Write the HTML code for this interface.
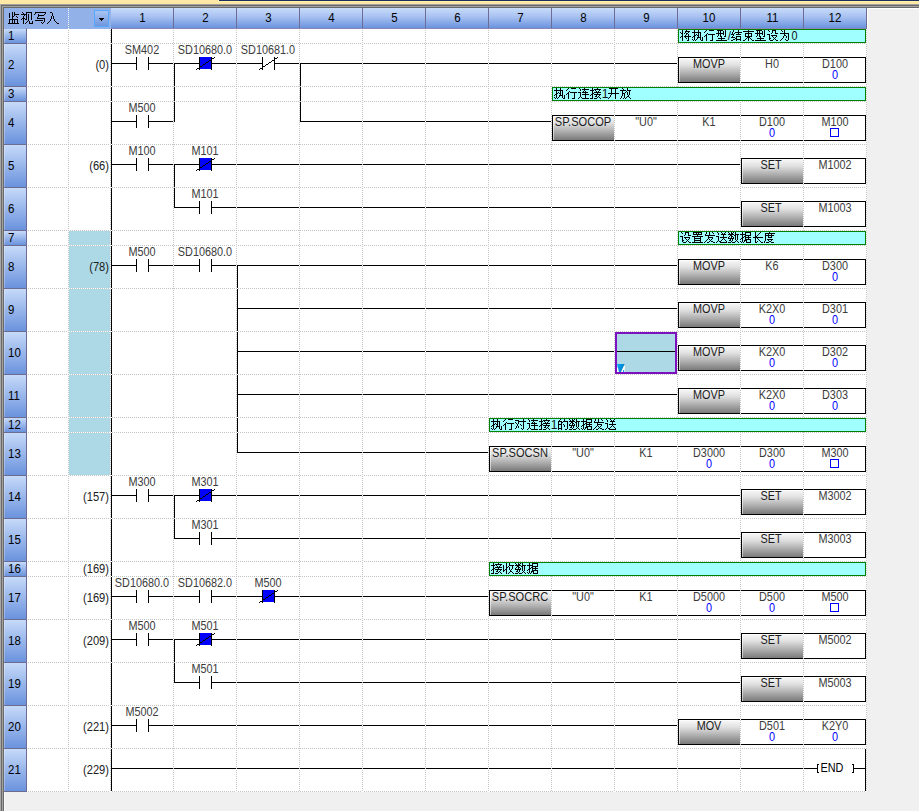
<!DOCTYPE html>
<html><head><meta charset="utf-8"><title>ladder</title><style>
html,body{margin:0;padding:0}
body{width:919px;height:811px;background:#f0f0f0;position:relative;overflow:hidden;font-family:"Liberation Sans",sans-serif}
.abs{position:absolute}
svg.l{position:absolute;left:0;top:0}
.t{position:absolute;line-height:15px;white-space:nowrap;font-family:"Liberation Sans",sans-serif}
.b{}
.gh{position:absolute;left:28px;width:839px;height:1px;background:repeating-linear-gradient(to right,#c4c4c4 0 1px,#fff 1px 2px)}
.gv{position:absolute;top:30px;height:762px;width:1px;background:repeating-linear-gradient(to bottom,#c4c4c4 0 1px,#fff 1px 2px)}
.ch{position:absolute;top:8px;height:20px;border-bottom:1px solid #8c86b6;width:62px;border-right:1px solid #6c6c94;background:linear-gradient(#c8dcfa,#a6c0f0 45%,#6a93de);text-align:center;font-size:12.5px;line-height:20px;color:#000}
.ch span{display:inline-block;transform:scaleX(.92)}
.rn{position:absolute;left:4px;width:22px;border-right:1px solid #6c6c94;border-top:1px solid #6c6c90;background:linear-gradient(#c6daf9,#6a92dd);font-size:12.5px;color:#000;box-sizing:content-box;box-shadow:inset 1px 0 0 rgba(255,255,255,.28)}
.rn span{display:inline-block;margin-left:3.5px;transform:scaleX(.92);transform-origin:left center}
</style></head><body>
<div class="abs" style="left:0;top:0;width:919px;height:4px;background:#ffe8a6"></div>
<div class="abs" style="left:218px;top:0;width:701px;height:2px;background:#fff0aa"></div>
<div class="abs" style="left:219px;top:0;width:700px;height:1px;background:#1c2f5c"></div>
<div class="abs" style="left:0;top:4px;width:919px;height:1px;background:#a0a0a0"></div>
<div class="abs" style="left:0;top:5px;width:919px;height:1px;background:#696969"></div>
<div class="abs" style="left:0;top:6px;width:919px;height:1px;background:#a0a0a0"></div>
<div class="abs" style="left:0;top:7px;width:919px;height:1px;background:#696969"></div>
<div class="abs" style="left:0;top:4px;width:1px;height:807px;background:#a8a8a8"></div>
<div class="abs" style="left:1px;top:5px;width:1px;height:806px;background:#696969"></div>
<div class="abs" style="left:2px;top:6px;width:1px;height:805px;background:#a0a0a0"></div>
<div class="abs" style="left:3px;top:7px;width:1px;height:804px;background:#6e6a68"></div>
<div class="abs" style="left:4px;top:792px;width:1px;height:19px;background:#fafafa"></div>
<div class="abs" style="left:4px;top:791px;width:23px;height:1px;background:#6c6c90"></div>
<div class="abs" style="left:867px;top:8px;width:52px;height:1px;background:#fff"></div>
<div class="abs" style="left:867px;top:8px;width:1px;height:21px;background:#fff"></div>
<div class="abs" style="left:27px;top:29px;width:840px;height:763px;background:#fff"></div>
<div style="position:absolute;left:4px;top:8px;width:107px;height:21px;background:#92b1e8"></div><div style="position:absolute;left:68px;top:8px;width:1px;height:21px;background:repeating-linear-gradient(to bottom,#fff 0 1px,transparent 1px 2px)"></div><div style="position:absolute;left:94px;top:10px;width:13px;height:15px;border:1px solid #55aaff;background:linear-gradient(#a9c4f1,#6f96de)"></div><svg style="position:absolute;left:99px;top:18px" width="5" height="3" shape-rendering="crispEdges"><path d="M0 0h5v1h-5zM1 1h3v1h-3zM2 2h1v1h-1z" fill="#000"/></svg><div class="ch" style="left:111px"><span>1</span></div><div class="ch" style="left:174px"><span>2</span></div><div class="ch" style="left:237px"><span>3</span></div><div class="ch" style="left:300px"><span>4</span></div><div class="ch" style="left:363px"><span>5</span></div><div class="ch" style="left:426px"><span>6</span></div><div class="ch" style="left:489px"><span>7</span></div><div class="ch" style="left:552px"><span>8</span></div><div class="ch" style="left:615px"><span>9</span></div><div class="ch" style="left:678px"><span>10</span></div><div class="ch" style="left:741px"><span>11</span></div><div class="ch" style="left:804px"><span>12</span></div>
<div class="rn" style="top:28px;height:14px;line-height:15px;border-top-color:#92b1e8"><span>1</span></div><div class="rn" style="top:43px;height:42px;line-height:43px"><span>2</span></div><div class="rn" style="top:86px;height:14px;line-height:15px"><span>3</span></div><div class="rn" style="top:101px;height:42px;line-height:43px"><span>4</span></div><div class="rn" style="top:144px;height:42px;line-height:43px"><span>5</span></div><div class="rn" style="top:187px;height:42px;line-height:43px"><span>6</span></div><div class="rn" style="top:230px;height:14px;line-height:15px"><span>7</span></div><div class="rn" style="top:245px;height:42px;line-height:43px"><span>8</span></div><div class="rn" style="top:288px;height:42px;line-height:43px"><span>9</span></div><div class="rn" style="top:331px;height:42px;line-height:43px"><span>10</span></div><div class="rn" style="top:374px;height:42px;line-height:43px"><span>11</span></div><div class="rn" style="top:417px;height:14px;line-height:15px"><span>12</span></div><div class="rn" style="top:432px;height:42px;line-height:43px"><span>13</span></div><div class="rn" style="top:475px;height:42px;line-height:43px"><span>14</span></div><div class="rn" style="top:518px;height:42px;line-height:43px"><span>15</span></div><div class="rn" style="top:561px;height:14px;line-height:15px"><span>16</span></div><div class="rn" style="top:576px;height:42px;line-height:43px"><span>17</span></div><div class="rn" style="top:619px;height:42px;line-height:43px"><span>18</span></div><div class="rn" style="top:662px;height:42px;line-height:43px"><span>19</span></div><div class="rn" style="top:705px;height:42px;line-height:43px"><span>20</span></div><div class="rn" style="top:748px;height:42px;line-height:43px"><span>21</span></div>
<svg class="l" width="919" height="811" shape-rendering="crispEdges"><defs><linearGradient id="gr" x1="0" y1="0" x2="0" y2="1"><stop offset="0" stop-color="#ffffff"/><stop offset="0.06" stop-color="#f4f4f4"/><stop offset="0.3" stop-color="#e0e0e0"/><stop offset="1" stop-color="#7a7a7a"/></linearGradient></defs>
<rect x="111" y="29" width="1" height="762" fill="#000"/><rect x="111" y="63" width="26" height="1" fill="#000"/><rect x="148" y="63" width="26" height="1" fill="#000"/><rect x="136" y="57" width="1" height="13" fill="#000"/><rect x="148" y="57" width="1" height="13" fill="#000"/><rect x="174" y="63" width="26" height="1" fill="#000"/><rect x="211" y="63" width="26" height="1" fill="#000"/><rect x="199" y="57" width="1" height="13" fill="#000"/><rect x="211" y="57" width="1" height="13" fill="#000"/><rect x="200" y="57" width="11" height="12" fill="#0000ff"/><path d="M196 69h1v1h-1zM197 68h1v1h-1zM198 68h1v1h-1zM199 67h1v1h-1zM200 66h1v1h-1zM201 66h1v1h-1zM202 65h1v1h-1zM203 64h1v1h-1zM204 64h1v1h-1zM205 63h1v1h-1zM206 62h1v1h-1zM207 62h1v1h-1zM208 61h1v1h-1zM209 60h1v1h-1zM210 60h1v1h-1zM211 59h1v1h-1zM212 58h1v1h-1zM213 58h1v1h-1zM214 57h1v1h-1z" fill="#000"/><rect x="237" y="63" width="26" height="1" fill="#000"/><rect x="274" y="63" width="26" height="1" fill="#000"/><rect x="262" y="57" width="1" height="13" fill="#000"/><rect x="274" y="57" width="1" height="13" fill="#000"/><path d="M259 69h1v1h-1zM260 68h1v1h-1zM261 68h1v1h-1zM262 67h1v1h-1zM263 66h1v1h-1zM264 66h1v1h-1zM265 65h1v1h-1zM266 64h1v1h-1zM267 64h1v1h-1zM268 63h1v1h-1zM269 62h1v1h-1zM270 62h1v1h-1zM271 61h1v1h-1zM272 60h1v1h-1zM273 60h1v1h-1zM274 59h1v1h-1zM275 58h1v1h-1zM276 58h1v1h-1zM277 57h1v1h-1z" fill="#000"/><rect x="174" y="63" width="1" height="59" fill="#000"/><rect x="300" y="63" width="1" height="59" fill="#000"/><rect x="300" y="63" width="378" height="1" fill="#000"/><rect x="678" y="57" width="188" height="26" fill="#fff"/><rect x="679" y="58" width="62" height="24" fill="url(#gr)"/><rect x="679" y="58" width="1" height="24" fill="#fff" fill-opacity=".55"/><path d="M678.5 57.5H865.5V82.5H678.5Z" stroke="#000" fill="none"/><rect x="111" y="121" width="26" height="1" fill="#000"/><rect x="148" y="121" width="26" height="1" fill="#000"/><rect x="136" y="115" width="1" height="13" fill="#000"/><rect x="148" y="115" width="1" height="13" fill="#000"/><rect x="300" y="121" width="252" height="1" fill="#000"/><rect x="552" y="115" width="314" height="26" fill="#fff"/><rect x="553" y="116" width="62" height="24" fill="url(#gr)"/><rect x="553" y="116" width="1" height="24" fill="#fff" fill-opacity=".55"/><path d="M552.5 115.5H865.5V140.5H552.5Z" stroke="#000" fill="none"/><path d="M830.5 128.5h8v8h-8z" stroke="#0000ff" fill="#fff"/><rect x="111" y="164" width="26" height="1" fill="#000"/><rect x="148" y="164" width="26" height="1" fill="#000"/><rect x="136" y="158" width="1" height="13" fill="#000"/><rect x="148" y="158" width="1" height="13" fill="#000"/><rect x="174" y="164" width="26" height="1" fill="#000"/><rect x="211" y="164" width="26" height="1" fill="#000"/><rect x="199" y="158" width="1" height="13" fill="#000"/><rect x="211" y="158" width="1" height="13" fill="#000"/><rect x="200" y="158" width="11" height="12" fill="#0000ff"/><path d="M196 170h1v1h-1zM197 169h1v1h-1zM198 169h1v1h-1zM199 168h1v1h-1zM200 167h1v1h-1zM201 167h1v1h-1zM202 166h1v1h-1zM203 165h1v1h-1zM204 165h1v1h-1zM205 164h1v1h-1zM206 163h1v1h-1zM207 163h1v1h-1zM208 162h1v1h-1zM209 161h1v1h-1zM210 161h1v1h-1zM211 160h1v1h-1zM212 159h1v1h-1zM213 159h1v1h-1zM214 158h1v1h-1z" fill="#000"/><rect x="174" y="164" width="1" height="44" fill="#000"/><rect x="237" y="164" width="504" height="1" fill="#000"/><rect x="741" y="158" width="125" height="26" fill="#fff"/><rect x="742" y="159" width="62" height="24" fill="url(#gr)"/><rect x="742" y="159" width="1" height="24" fill="#fff" fill-opacity=".55"/><path d="M741.5 158.5H865.5V183.5H741.5Z" stroke="#000" fill="none"/><rect x="174" y="207" width="26" height="1" fill="#000"/><rect x="211" y="207" width="26" height="1" fill="#000"/><rect x="199" y="201" width="1" height="13" fill="#000"/><rect x="211" y="201" width="1" height="13" fill="#000"/><rect x="237" y="207" width="504" height="1" fill="#000"/><rect x="741" y="201" width="125" height="26" fill="#fff"/><rect x="742" y="202" width="62" height="24" fill="url(#gr)"/><rect x="742" y="202" width="1" height="24" fill="#fff" fill-opacity=".55"/><path d="M741.5 201.5H865.5V226.5H741.5Z" stroke="#000" fill="none"/><rect x="111" y="265" width="26" height="1" fill="#000"/><rect x="148" y="265" width="26" height="1" fill="#000"/><rect x="136" y="259" width="1" height="13" fill="#000"/><rect x="148" y="259" width="1" height="13" fill="#000"/><rect x="174" y="265" width="26" height="1" fill="#000"/><rect x="211" y="265" width="26" height="1" fill="#000"/><rect x="199" y="259" width="1" height="13" fill="#000"/><rect x="211" y="259" width="1" height="13" fill="#000"/><rect x="237" y="265" width="1" height="188" fill="#000"/><rect x="237" y="265" width="441" height="1" fill="#000"/><rect x="678" y="259" width="188" height="26" fill="#fff"/><rect x="679" y="260" width="62" height="24" fill="url(#gr)"/><rect x="679" y="260" width="1" height="24" fill="#fff" fill-opacity=".55"/><path d="M678.5 259.5H865.5V284.5H678.5Z" stroke="#000" fill="none"/><rect x="237" y="308" width="441" height="1" fill="#000"/><rect x="678" y="302" width="188" height="26" fill="#fff"/><rect x="679" y="303" width="62" height="24" fill="url(#gr)"/><rect x="679" y="303" width="1" height="24" fill="#fff" fill-opacity=".55"/><path d="M678.5 302.5H865.5V327.5H678.5Z" stroke="#000" fill="none"/><rect x="237" y="351" width="441" height="1" fill="#000"/><rect x="678" y="345" width="188" height="26" fill="#fff"/><rect x="679" y="346" width="62" height="24" fill="url(#gr)"/><rect x="679" y="346" width="1" height="24" fill="#fff" fill-opacity=".55"/><path d="M678.5 345.5H865.5V370.5H678.5Z" stroke="#000" fill="none"/><rect x="237" y="394" width="441" height="1" fill="#000"/><rect x="678" y="388" width="188" height="26" fill="#fff"/><rect x="679" y="389" width="62" height="24" fill="url(#gr)"/><rect x="679" y="389" width="1" height="24" fill="#fff" fill-opacity=".55"/><path d="M678.5 388.5H865.5V413.5H678.5Z" stroke="#000" fill="none"/><rect x="237" y="452" width="252" height="1" fill="#000"/><rect x="489" y="446" width="377" height="26" fill="#fff"/><rect x="490" y="447" width="62" height="24" fill="url(#gr)"/><rect x="490" y="447" width="1" height="24" fill="#fff" fill-opacity=".55"/><path d="M489.5 446.5H865.5V471.5H489.5Z" stroke="#000" fill="none"/><path d="M830.5 459.5h8v8h-8z" stroke="#0000ff" fill="#fff"/><rect x="111" y="495" width="26" height="1" fill="#000"/><rect x="148" y="495" width="26" height="1" fill="#000"/><rect x="136" y="489" width="1" height="13" fill="#000"/><rect x="148" y="489" width="1" height="13" fill="#000"/><rect x="174" y="495" width="26" height="1" fill="#000"/><rect x="211" y="495" width="26" height="1" fill="#000"/><rect x="199" y="489" width="1" height="13" fill="#000"/><rect x="211" y="489" width="1" height="13" fill="#000"/><rect x="200" y="489" width="11" height="12" fill="#0000ff"/><path d="M196 501h1v1h-1zM197 500h1v1h-1zM198 500h1v1h-1zM199 499h1v1h-1zM200 498h1v1h-1zM201 498h1v1h-1zM202 497h1v1h-1zM203 496h1v1h-1zM204 496h1v1h-1zM205 495h1v1h-1zM206 494h1v1h-1zM207 494h1v1h-1zM208 493h1v1h-1zM209 492h1v1h-1zM210 492h1v1h-1zM211 491h1v1h-1zM212 490h1v1h-1zM213 490h1v1h-1zM214 489h1v1h-1z" fill="#000"/><rect x="174" y="495" width="1" height="44" fill="#000"/><rect x="237" y="495" width="504" height="1" fill="#000"/><rect x="741" y="489" width="125" height="26" fill="#fff"/><rect x="742" y="490" width="62" height="24" fill="url(#gr)"/><rect x="742" y="490" width="1" height="24" fill="#fff" fill-opacity=".55"/><path d="M741.5 489.5H865.5V514.5H741.5Z" stroke="#000" fill="none"/><rect x="174" y="538" width="26" height="1" fill="#000"/><rect x="211" y="538" width="26" height="1" fill="#000"/><rect x="199" y="532" width="1" height="13" fill="#000"/><rect x="211" y="532" width="1" height="13" fill="#000"/><rect x="237" y="538" width="504" height="1" fill="#000"/><rect x="741" y="532" width="125" height="26" fill="#fff"/><rect x="742" y="533" width="62" height="24" fill="url(#gr)"/><rect x="742" y="533" width="1" height="24" fill="#fff" fill-opacity=".55"/><path d="M741.5 532.5H865.5V557.5H741.5Z" stroke="#000" fill="none"/><rect x="111" y="596" width="26" height="1" fill="#000"/><rect x="148" y="596" width="26" height="1" fill="#000"/><rect x="136" y="590" width="1" height="13" fill="#000"/><rect x="148" y="590" width="1" height="13" fill="#000"/><rect x="174" y="596" width="26" height="1" fill="#000"/><rect x="211" y="596" width="26" height="1" fill="#000"/><rect x="199" y="590" width="1" height="13" fill="#000"/><rect x="211" y="590" width="1" height="13" fill="#000"/><rect x="237" y="596" width="26" height="1" fill="#000"/><rect x="274" y="596" width="26" height="1" fill="#000"/><rect x="262" y="590" width="1" height="13" fill="#000"/><rect x="274" y="590" width="1" height="13" fill="#000"/><rect x="263" y="590" width="11" height="12" fill="#0000ff"/><path d="M259 602h1v1h-1zM260 601h1v1h-1zM261 601h1v1h-1zM262 600h1v1h-1zM263 599h1v1h-1zM264 599h1v1h-1zM265 598h1v1h-1zM266 597h1v1h-1zM267 597h1v1h-1zM268 596h1v1h-1zM269 595h1v1h-1zM270 595h1v1h-1zM271 594h1v1h-1zM272 593h1v1h-1zM273 593h1v1h-1zM274 592h1v1h-1zM275 591h1v1h-1zM276 591h1v1h-1zM277 590h1v1h-1z" fill="#000"/><rect x="300" y="596" width="189" height="1" fill="#000"/><rect x="489" y="590" width="377" height="26" fill="#fff"/><rect x="490" y="591" width="62" height="24" fill="url(#gr)"/><rect x="490" y="591" width="1" height="24" fill="#fff" fill-opacity=".55"/><path d="M489.5 590.5H865.5V615.5H489.5Z" stroke="#000" fill="none"/><path d="M830.5 603.5h8v8h-8z" stroke="#0000ff" fill="#fff"/><rect x="111" y="639" width="26" height="1" fill="#000"/><rect x="148" y="639" width="26" height="1" fill="#000"/><rect x="136" y="633" width="1" height="13" fill="#000"/><rect x="148" y="633" width="1" height="13" fill="#000"/><rect x="174" y="639" width="26" height="1" fill="#000"/><rect x="211" y="639" width="26" height="1" fill="#000"/><rect x="199" y="633" width="1" height="13" fill="#000"/><rect x="211" y="633" width="1" height="13" fill="#000"/><rect x="200" y="633" width="11" height="12" fill="#0000ff"/><path d="M196 645h1v1h-1zM197 644h1v1h-1zM198 644h1v1h-1zM199 643h1v1h-1zM200 642h1v1h-1zM201 642h1v1h-1zM202 641h1v1h-1zM203 640h1v1h-1zM204 640h1v1h-1zM205 639h1v1h-1zM206 638h1v1h-1zM207 638h1v1h-1zM208 637h1v1h-1zM209 636h1v1h-1zM210 636h1v1h-1zM211 635h1v1h-1zM212 634h1v1h-1zM213 634h1v1h-1zM214 633h1v1h-1z" fill="#000"/><rect x="174" y="639" width="1" height="44" fill="#000"/><rect x="237" y="639" width="504" height="1" fill="#000"/><rect x="741" y="633" width="125" height="26" fill="#fff"/><rect x="742" y="634" width="62" height="24" fill="url(#gr)"/><rect x="742" y="634" width="1" height="24" fill="#fff" fill-opacity=".55"/><path d="M741.5 633.5H865.5V658.5H741.5Z" stroke="#000" fill="none"/><rect x="174" y="682" width="26" height="1" fill="#000"/><rect x="211" y="682" width="26" height="1" fill="#000"/><rect x="199" y="676" width="1" height="13" fill="#000"/><rect x="211" y="676" width="1" height="13" fill="#000"/><rect x="237" y="682" width="504" height="1" fill="#000"/><rect x="741" y="676" width="125" height="26" fill="#fff"/><rect x="742" y="677" width="62" height="24" fill="url(#gr)"/><rect x="742" y="677" width="1" height="24" fill="#fff" fill-opacity=".55"/><path d="M741.5 676.5H865.5V701.5H741.5Z" stroke="#000" fill="none"/><rect x="111" y="725" width="26" height="1" fill="#000"/><rect x="148" y="725" width="26" height="1" fill="#000"/><rect x="136" y="719" width="1" height="13" fill="#000"/><rect x="148" y="719" width="1" height="13" fill="#000"/><rect x="174" y="725" width="504" height="1" fill="#000"/><rect x="678" y="719" width="188" height="26" fill="#fff"/><rect x="679" y="720" width="62" height="24" fill="url(#gr)"/><rect x="679" y="720" width="1" height="24" fill="#fff" fill-opacity=".55"/><path d="M678.5 719.5H865.5V744.5H678.5Z" stroke="#000" fill="none"/><rect x="111" y="768" width="707" height="1" fill="#000"/><path d="M819 764.5H817.5V772.5H819" stroke="#000" fill="none"/><path d="M852 764.5H853.5V772.5H852" stroke="#000" fill="none"/><rect x="854" y="768" width="12" height="1" fill="#000"/><rect x="865" y="749" width="1" height="42" fill="#000"/><rect x="69" y="231" width="41" height="244" fill="#add8e6"/>
</svg>
<div class="gh" style="top:43px"></div><div class="gh" style="top:86px"></div><div class="gh" style="top:101px"></div><div class="gh" style="top:144px"></div><div class="gh" style="top:187px"></div><div class="gh" style="top:230px"></div><div class="gh" style="top:245px"></div><div class="gh" style="top:288px"></div><div class="gh" style="top:331px"></div><div class="gh" style="top:374px"></div><div class="gh" style="top:417px"></div><div class="gh" style="top:432px"></div><div class="gh" style="top:475px"></div><div class="gh" style="top:518px"></div><div class="gh" style="top:561px"></div><div class="gh" style="top:576px"></div><div class="gh" style="top:619px"></div><div class="gh" style="top:662px"></div><div class="gh" style="top:705px"></div><div class="gh" style="top:748px"></div><div class="gh" style="top:791px"></div><div class="gv" style="left:68px"></div><div class="gv" style="left:110px"></div><div class="gv" style="left:173px"></div><div class="gv" style="left:236px"></div><div class="gv" style="left:299px"></div><div class="gv" style="left:362px"></div><div class="gv" style="left:425px"></div><div class="gv" style="left:488px"></div><div class="gv" style="left:551px"></div><div class="gv" style="left:614px"></div><div class="gv" style="left:677px"></div><div class="gv" style="left:740px"></div><div class="gv" style="left:803px"></div><div class="gv" style="left:866px"></div>
<svg class="l" width="919" height="811" shape-rendering="crispEdges">
<path d="M678.5 29.5H865.5V42.5H678.5Z" stroke="#008000" fill="#a0ffff"/><path d="M682 30h1v1h-1zM686 30h1v1h-1zM682 31h1v1h-1zM685 31h5v1h-5zM680 32h1v1h-1zM682 32h1v1h-1zM685 32h1v1h-1zM688 32h1v1h-1zM681 33h2v1h-2zM684 33h1v1h-1zM686 33h2v1h-2zM682 34h1v1h-1zM686 34h1v1h-1zM688 34h1v1h-1zM682 35h1v1h-1zM685 35h1v1h-1zM688 35h1v1h-1zM681 36h2v1h-2zM684 36h7v1h-7zM680 37h1v1h-1zM682 37h1v1h-1zM685 37h1v1h-1zM688 37h1v1h-1zM682 38h1v1h-1zM686 38h1v1h-1zM688 38h1v1h-1zM682 39h1v1h-1zM688 39h1v1h-1zM682 40h1v1h-1zM687 40h2v1h-2zM694 30h1v1h-1zM698 30h1v1h-1zM694 31h1v1h-1zM698 31h1v1h-1zM692 32h9v1h-9zM694 33h1v1h-1zM698 33h1v1h-1zM700 33h1v1h-1zM694 34h1v1h-1zM696 34h1v1h-1zM698 34h1v1h-1zM700 34h1v1h-1zM694 35h2v1h-2zM697 35h2v1h-2zM700 35h1v1h-1zM693 36h2v1h-2zM698 36h1v1h-1zM700 36h1v1h-1zM692 37h1v1h-1zM694 37h1v1h-1zM697 37h4v1h-4zM702 37h1v1h-1zM694 38h1v1h-1zM697 38h1v1h-1zM700 38h1v1h-1zM702 38h1v1h-1zM692 39h1v1h-1zM694 39h1v1h-1zM696 39h1v1h-1zM700 39h1v1h-1zM702 39h1v1h-1zM693 40h1v1h-1zM695 40h1v1h-1zM701 40h2v1h-2zM706 30h1v1h-1zM709 30h5v1h-5zM705 31h1v1h-1zM704 32h1v1h-1zM707 33h1v1h-1zM706 34h1v1h-1zM708 34h7v1h-7zM705 35h2v1h-2zM712 35h1v1h-1zM704 36h1v1h-1zM706 36h1v1h-1zM712 36h1v1h-1zM706 37h1v1h-1zM712 37h1v1h-1zM706 38h1v1h-1zM712 38h1v1h-1zM706 39h1v1h-1zM712 39h1v1h-1zM706 40h1v1h-1zM710 40h3v1h-3zM717 30h6v1h-6zM725 30h1v1h-1zM718 31h1v1h-1zM720 31h1v1h-1zM723 31h1v1h-1zM725 31h1v1h-1zM718 32h1v1h-1zM720 32h1v1h-1zM723 32h1v1h-1zM725 32h1v1h-1zM716 33h8v1h-8zM725 33h1v1h-1zM718 34h1v1h-1zM720 34h1v1h-1zM723 34h1v1h-1zM725 34h1v1h-1zM718 35h1v1h-1zM720 35h1v1h-1zM725 35h1v1h-1zM717 36h1v1h-1zM720 36h2v1h-2zM724 36h2v1h-2zM721 37h1v1h-1zM718 38h7v1h-7zM721 39h1v1h-1zM716 40h11v1h-11zM733 30h1v1h-1zM738 30h1v1h-1zM733 31h1v1h-1zM738 31h1v1h-1zM732 32h1v1h-1zM735 32h7v1h-7zM732 33h1v1h-1zM734 33h1v1h-1zM738 33h1v1h-1zM731 34h3v1h-3zM736 34h5v1h-5zM733 35h1v1h-1zM732 36h1v1h-1zM736 36h5v1h-5zM731 37h4v1h-4zM736 37h1v1h-1zM740 37h1v1h-1zM735 38h2v1h-2zM740 38h1v1h-1zM733 39h2v1h-2zM736 39h5v1h-5zM731 40h2v1h-2zM736 40h1v1h-1zM740 40h1v1h-1zM748 30h1v1h-1zM743 31h11v1h-11zM748 32h1v1h-1zM745 33h7v1h-7zM745 34h1v1h-1zM748 34h1v1h-1zM751 34h1v1h-1zM745 35h1v1h-1zM748 35h1v1h-1zM751 35h1v1h-1zM745 36h7v1h-7zM747 37h3v1h-3zM746 38h1v1h-1zM748 38h1v1h-1zM750 38h1v1h-1zM745 39h1v1h-1zM748 39h1v1h-1zM751 39h1v1h-1zM743 40h2v1h-2zM748 40h1v1h-1zM752 40h2v1h-2zM756 30h6v1h-6zM764 30h1v1h-1zM757 31h1v1h-1zM759 31h1v1h-1zM762 31h1v1h-1zM764 31h1v1h-1zM757 32h1v1h-1zM759 32h1v1h-1zM762 32h1v1h-1zM764 32h1v1h-1zM755 33h8v1h-8zM764 33h1v1h-1zM757 34h1v1h-1zM759 34h1v1h-1zM762 34h1v1h-1zM764 34h1v1h-1zM757 35h1v1h-1zM759 35h1v1h-1zM764 35h1v1h-1zM756 36h1v1h-1zM759 36h2v1h-2zM763 36h2v1h-2zM760 37h1v1h-1zM757 38h7v1h-7zM760 39h1v1h-1zM755 40h11v1h-11zM768 30h1v1h-1zM772 30h4v1h-4zM769 31h1v1h-1zM772 31h1v1h-1zM775 31h1v1h-1zM772 32h1v1h-1zM775 32h1v1h-1zM771 33h1v1h-1zM775 33h3v1h-3zM767 34h3v1h-3zM769 35h1v1h-1zM771 35h6v1h-6zM769 36h1v1h-1zM772 36h1v1h-1zM776 36h1v1h-1zM769 37h1v1h-1zM773 37h1v1h-1zM775 37h1v1h-1zM769 38h2v1h-2zM774 38h1v1h-1zM769 39h1v1h-1zM773 39h1v1h-1zM775 39h1v1h-1zM770 40h3v1h-3zM776 40h2v1h-2zM781 30h1v1h-1zM784 30h1v1h-1zM782 31h1v1h-1zM784 31h1v1h-1zM784 32h1v1h-1zM780 33h9v1h-9zM784 34h1v1h-1zM788 34h1v1h-1zM784 35h2v1h-2zM788 35h1v1h-1zM783 36h1v1h-1zM786 36h1v1h-1zM788 36h1v1h-1zM783 37h1v1h-1zM786 37h1v1h-1zM788 37h1v1h-1zM782 38h1v1h-1zM788 38h1v1h-1zM781 39h1v1h-1zM785 39h1v1h-1zM788 39h1v1h-1zM780 40h1v1h-1zM786 40h2v1h-2z" fill="#000"/><path d="M552.5 87.5H865.5V100.5H552.5Z" stroke="#008000" fill="#a0ffff"/><path d="M556 88h1v1h-1zM560 88h1v1h-1zM556 89h1v1h-1zM560 89h1v1h-1zM554 90h9v1h-9zM556 91h1v1h-1zM560 91h1v1h-1zM562 91h1v1h-1zM556 92h1v1h-1zM558 92h1v1h-1zM560 92h1v1h-1zM562 92h1v1h-1zM556 93h2v1h-2zM559 93h2v1h-2zM562 93h1v1h-1zM555 94h2v1h-2zM560 94h1v1h-1zM562 94h1v1h-1zM554 95h1v1h-1zM556 95h1v1h-1zM559 95h4v1h-4zM564 95h1v1h-1zM556 96h1v1h-1zM559 96h1v1h-1zM562 96h1v1h-1zM564 96h1v1h-1zM554 97h1v1h-1zM556 97h1v1h-1zM558 97h1v1h-1zM562 97h1v1h-1zM564 97h1v1h-1zM555 98h1v1h-1zM557 98h1v1h-1zM563 98h2v1h-2zM568 88h1v1h-1zM571 88h5v1h-5zM567 89h1v1h-1zM566 90h1v1h-1zM569 91h1v1h-1zM568 92h1v1h-1zM570 92h7v1h-7zM567 93h2v1h-2zM574 93h1v1h-1zM566 94h1v1h-1zM568 94h1v1h-1zM574 94h1v1h-1zM568 95h1v1h-1zM574 95h1v1h-1zM568 96h1v1h-1zM574 96h1v1h-1zM568 97h1v1h-1zM574 97h1v1h-1zM568 98h1v1h-1zM572 98h3v1h-3zM579 88h1v1h-1zM584 88h1v1h-1zM580 89h1v1h-1zM582 89h7v1h-7zM580 90h1v1h-1zM584 90h1v1h-1zM583 91h1v1h-1zM585 91h1v1h-1zM578 92h3v1h-3zM582 92h6v1h-6zM580 93h1v1h-1zM585 93h1v1h-1zM580 94h1v1h-1zM582 94h7v1h-7zM580 95h1v1h-1zM585 95h1v1h-1zM580 96h1v1h-1zM585 96h1v1h-1zM579 97h1v1h-1zM581 97h1v1h-1zM585 97h1v1h-1zM578 98h1v1h-1zM582 98h7v1h-7zM592 88h1v1h-1zM597 88h1v1h-1zM592 89h1v1h-1zM594 89h7v1h-7zM590 90h4v1h-4zM595 90h1v1h-1zM599 90h1v1h-1zM592 91h1v1h-1zM596 91h1v1h-1zM598 91h1v1h-1zM592 92h1v1h-1zM594 92h7v1h-7zM592 93h2v1h-2zM597 93h1v1h-1zM591 94h2v1h-2zM594 94h7v1h-7zM590 95h1v1h-1zM592 95h1v1h-1zM596 95h1v1h-1zM599 95h1v1h-1zM592 96h1v1h-1zM595 96h2v1h-2zM598 96h1v1h-1zM592 97h1v1h-1zM597 97h1v1h-1zM599 97h1v1h-1zM590 98h3v1h-3zM594 98h3v1h-3zM600 98h1v1h-1zM609 88h9v1h-9zM611 89h1v1h-1zM615 89h1v1h-1zM611 90h1v1h-1zM615 90h1v1h-1zM611 91h1v1h-1zM615 91h1v1h-1zM611 92h1v1h-1zM615 92h1v1h-1zM608 93h11v1h-11zM611 94h1v1h-1zM615 94h1v1h-1zM610 95h1v1h-1zM615 95h1v1h-1zM610 96h1v1h-1zM615 96h1v1h-1zM609 97h1v1h-1zM615 97h1v1h-1zM608 98h1v1h-1zM615 98h1v1h-1zM622 88h1v1h-1zM627 88h1v1h-1zM623 89h1v1h-1zM627 89h1v1h-1zM620 90h6v1h-6zM627 90h4v1h-4zM622 91h1v1h-1zM626 91h1v1h-1zM629 91h1v1h-1zM622 92h1v1h-1zM625 92h1v1h-1zM627 92h1v1h-1zM629 92h1v1h-1zM622 93h3v1h-3zM627 93h1v1h-1zM629 93h1v1h-1zM622 94h1v1h-1zM624 94h1v1h-1zM627 94h1v1h-1zM629 94h1v1h-1zM622 95h1v1h-1zM624 95h1v1h-1zM628 95h1v1h-1zM621 96h1v1h-1zM624 96h1v1h-1zM627 96h2v1h-2zM621 97h1v1h-1zM624 97h1v1h-1zM626 97h1v1h-1zM629 97h1v1h-1zM620 98h1v1h-1zM623 98h1v1h-1zM625 98h1v1h-1zM630 98h1v1h-1z" fill="#000"/><path d="M678.5 231.5H865.5V244.5H678.5Z" stroke="#008000" fill="#a0ffff"/><path d="M681 232h1v1h-1zM685 232h4v1h-4zM682 233h1v1h-1zM685 233h1v1h-1zM688 233h1v1h-1zM685 234h1v1h-1zM688 234h1v1h-1zM684 235h1v1h-1zM688 235h3v1h-3zM680 236h3v1h-3zM682 237h1v1h-1zM684 237h6v1h-6zM682 238h1v1h-1zM685 238h1v1h-1zM689 238h1v1h-1zM682 239h1v1h-1zM686 239h1v1h-1zM688 239h1v1h-1zM682 240h2v1h-2zM687 240h1v1h-1zM682 241h1v1h-1zM686 241h1v1h-1zM688 241h1v1h-1zM683 242h3v1h-3zM689 242h2v1h-2zM693 232h9v1h-9zM693 233h1v1h-1zM696 233h1v1h-1zM698 233h1v1h-1zM701 233h1v1h-1zM693 234h9v1h-9zM697 235h1v1h-1zM692 236h11v1h-11zM694 237h1v1h-1zM700 237h1v1h-1zM694 238h7v1h-7zM694 239h1v1h-1zM700 239h1v1h-1zM694 240h7v1h-7zM694 241h1v1h-1zM700 241h1v1h-1zM692 242h11v1h-11zM706 232h1v1h-1zM709 232h1v1h-1zM712 232h1v1h-1zM706 233h1v1h-1zM709 233h1v1h-1zM713 233h1v1h-1zM705 234h1v1h-1zM709 234h1v1h-1zM705 235h10v1h-10zM708 236h1v1h-1zM708 237h5v1h-5zM708 238h1v1h-1zM712 238h1v1h-1zM707 239h1v1h-1zM709 239h1v1h-1zM711 239h1v1h-1zM706 240h1v1h-1zM710 240h1v1h-1zM705 241h1v1h-1zM709 241h1v1h-1zM711 241h2v1h-2zM704 242h1v1h-1zM707 242h2v1h-2zM713 242h2v1h-2zM717 232h1v1h-1zM721 232h1v1h-1zM725 232h1v1h-1zM718 233h1v1h-1zM722 233h1v1h-1zM724 233h1v1h-1zM718 234h1v1h-1zM721 234h5v1h-5zM723 235h1v1h-1zM716 236h3v1h-3zM723 236h1v1h-1zM718 237h1v1h-1zM720 237h7v1h-7zM718 238h1v1h-1zM723 238h1v1h-1zM718 239h1v1h-1zM722 239h1v1h-1zM724 239h1v1h-1zM718 240h1v1h-1zM721 240h1v1h-1zM725 240h1v1h-1zM717 241h1v1h-1zM719 241h2v1h-2zM726 241h1v1h-1zM716 242h1v1h-1zM720 242h7v1h-7zM728 232h1v1h-1zM731 232h1v1h-1zM733 232h1v1h-1zM735 232h1v1h-1zM729 233h1v1h-1zM731 233h2v1h-2zM735 233h1v1h-1zM728 234h6v1h-6zM735 234h4v1h-4zM730 235h2v1h-2zM734 235h2v1h-2zM737 235h1v1h-1zM729 236h1v1h-1zM731 236h2v1h-2zM735 236h1v1h-1zM737 236h1v1h-1zM728 237h1v1h-1zM731 237h1v1h-1zM733 237h1v1h-1zM735 237h1v1h-1zM737 237h1v1h-1zM728 238h6v1h-6zM735 238h1v1h-1zM737 238h1v1h-1zM730 239h1v1h-1zM732 239h1v1h-1zM735 239h1v1h-1zM737 239h1v1h-1zM729 240h2v1h-2zM732 240h1v1h-1zM736 240h1v1h-1zM731 241h1v1h-1zM735 241h1v1h-1zM737 241h1v1h-1zM728 242h3v1h-3zM732 242h3v1h-3zM738 242h1v1h-1zM742 232h1v1h-1zM745 232h6v1h-6zM742 233h1v1h-1zM745 233h1v1h-1zM750 233h1v1h-1zM740 234h6v1h-6zM750 234h1v1h-1zM742 235h1v1h-1zM745 235h6v1h-6zM742 236h1v1h-1zM744 236h2v1h-2zM748 236h1v1h-1zM742 237h2v1h-2zM745 237h6v1h-6zM741 238h2v1h-2zM745 238h1v1h-1zM748 238h1v1h-1zM740 239h1v1h-1zM742 239h1v1h-1zM745 239h6v1h-6zM742 240h1v1h-1zM744 240h3v1h-3zM750 240h1v1h-1zM740 241h1v1h-1zM742 241h1v1h-1zM744 241h1v1h-1zM746 241h1v1h-1zM750 241h1v1h-1zM741 242h1v1h-1zM743 242h1v1h-1zM746 242h5v1h-5zM755 232h1v1h-1zM760 232h1v1h-1zM755 233h1v1h-1zM759 233h1v1h-1zM755 234h1v1h-1zM758 234h1v1h-1zM755 235h1v1h-1zM757 235h1v1h-1zM755 236h2v1h-2zM753 237h10v1h-10zM755 238h1v1h-1zM757 238h1v1h-1zM755 239h1v1h-1zM758 239h1v1h-1zM755 240h1v1h-1zM759 240h1v1h-1zM755 241h1v1h-1zM757 241h1v1h-1zM760 241h1v1h-1zM755 242h2v1h-2zM761 242h2v1h-2zM769 232h1v1h-1zM765 233h10v1h-10zM765 234h1v1h-1zM768 234h1v1h-1zM771 234h1v1h-1zM765 235h9v1h-9zM765 236h1v1h-1zM768 236h1v1h-1zM771 236h1v1h-1zM765 237h1v1h-1zM768 237h4v1h-4zM765 238h1v1h-1zM765 239h1v1h-1zM767 239h6v1h-6zM765 240h1v1h-1zM768 240h1v1h-1zM771 240h1v1h-1zM764 241h1v1h-1zM769 241h2v1h-2zM764 242h1v1h-1zM766 242h3v1h-3zM771 242h3v1h-3z" fill="#000"/><path d="M489.5 418.5H865.5V431.5H489.5Z" stroke="#008000" fill="#a0ffff"/><path d="M493 419h1v1h-1zM497 419h1v1h-1zM493 420h1v1h-1zM497 420h1v1h-1zM491 421h9v1h-9zM493 422h1v1h-1zM497 422h1v1h-1zM499 422h1v1h-1zM493 423h1v1h-1zM495 423h1v1h-1zM497 423h1v1h-1zM499 423h1v1h-1zM493 424h2v1h-2zM496 424h2v1h-2zM499 424h1v1h-1zM492 425h2v1h-2zM497 425h1v1h-1zM499 425h1v1h-1zM491 426h1v1h-1zM493 426h1v1h-1zM496 426h4v1h-4zM501 426h1v1h-1zM493 427h1v1h-1zM496 427h1v1h-1zM499 427h1v1h-1zM501 427h1v1h-1zM491 428h1v1h-1zM493 428h1v1h-1zM495 428h1v1h-1zM499 428h1v1h-1zM501 428h1v1h-1zM492 429h1v1h-1zM494 429h1v1h-1zM500 429h2v1h-2zM505 419h1v1h-1zM508 419h5v1h-5zM504 420h1v1h-1zM503 421h1v1h-1zM506 422h1v1h-1zM505 423h1v1h-1zM507 423h7v1h-7zM504 424h2v1h-2zM511 424h1v1h-1zM503 425h1v1h-1zM505 425h1v1h-1zM511 425h1v1h-1zM505 426h1v1h-1zM511 426h1v1h-1zM505 427h1v1h-1zM511 427h1v1h-1zM505 428h1v1h-1zM511 428h1v1h-1zM505 429h1v1h-1zM509 429h3v1h-3zM523 419h1v1h-1zM515 420h4v1h-4zM523 420h1v1h-1zM518 421h8v1h-8zM515 422h1v1h-1zM518 422h1v1h-1zM523 422h1v1h-1zM516 423h1v1h-1zM518 423h1v1h-1zM523 423h1v1h-1zM517 424h1v1h-1zM520 424h1v1h-1zM523 424h1v1h-1zM517 425h1v1h-1zM521 425h1v1h-1zM523 425h1v1h-1zM516 426h1v1h-1zM518 426h1v1h-1zM523 426h1v1h-1zM516 427h1v1h-1zM518 427h1v1h-1zM523 427h1v1h-1zM515 428h1v1h-1zM521 428h1v1h-1zM523 428h1v1h-1zM522 429h1v1h-1zM528 419h1v1h-1zM533 419h1v1h-1zM529 420h1v1h-1zM531 420h7v1h-7zM529 421h1v1h-1zM533 421h1v1h-1zM532 422h1v1h-1zM534 422h1v1h-1zM527 423h3v1h-3zM531 423h6v1h-6zM529 424h1v1h-1zM534 424h1v1h-1zM529 425h1v1h-1zM531 425h7v1h-7zM529 426h1v1h-1zM534 426h1v1h-1zM529 427h1v1h-1zM534 427h1v1h-1zM528 428h1v1h-1zM530 428h1v1h-1zM534 428h1v1h-1zM527 429h1v1h-1zM531 429h7v1h-7zM541 419h1v1h-1zM546 419h1v1h-1zM541 420h1v1h-1zM543 420h7v1h-7zM539 421h4v1h-4zM544 421h1v1h-1zM548 421h1v1h-1zM541 422h1v1h-1zM545 422h1v1h-1zM547 422h1v1h-1zM541 423h1v1h-1zM543 423h7v1h-7zM541 424h2v1h-2zM546 424h1v1h-1zM540 425h2v1h-2zM543 425h7v1h-7zM539 426h1v1h-1zM541 426h1v1h-1zM545 426h1v1h-1zM548 426h1v1h-1zM541 427h1v1h-1zM544 427h2v1h-2zM547 427h1v1h-1zM541 428h1v1h-1zM546 428h1v1h-1zM548 428h1v1h-1zM539 429h3v1h-3zM543 429h3v1h-3zM549 429h1v1h-1zM560 419h1v1h-1zM564 419h1v1h-1zM559 420h1v1h-1zM564 420h1v1h-1zM558 421h4v1h-4zM563 421h5v1h-5zM558 422h1v1h-1zM561 422h2v1h-2zM567 422h1v1h-1zM558 423h1v1h-1zM561 423h1v1h-1zM567 423h1v1h-1zM558 424h4v1h-4zM563 424h1v1h-1zM567 424h1v1h-1zM558 425h1v1h-1zM561 425h1v1h-1zM564 425h1v1h-1zM567 425h1v1h-1zM558 426h1v1h-1zM561 426h1v1h-1zM564 426h1v1h-1zM567 426h1v1h-1zM558 427h1v1h-1zM561 427h1v1h-1zM567 427h1v1h-1zM558 428h4v1h-4zM567 428h1v1h-1zM558 429h1v1h-1zM561 429h1v1h-1zM565 429h2v1h-2zM569 419h1v1h-1zM572 419h1v1h-1zM574 419h1v1h-1zM576 419h1v1h-1zM570 420h1v1h-1zM572 420h2v1h-2zM576 420h1v1h-1zM569 421h6v1h-6zM576 421h4v1h-4zM571 422h2v1h-2zM575 422h2v1h-2zM578 422h1v1h-1zM570 423h1v1h-1zM572 423h2v1h-2zM576 423h1v1h-1zM578 423h1v1h-1zM569 424h1v1h-1zM572 424h1v1h-1zM574 424h1v1h-1zM576 424h1v1h-1zM578 424h1v1h-1zM569 425h6v1h-6zM576 425h1v1h-1zM578 425h1v1h-1zM571 426h1v1h-1zM573 426h1v1h-1zM576 426h1v1h-1zM578 426h1v1h-1zM570 427h2v1h-2zM573 427h1v1h-1zM577 427h1v1h-1zM572 428h1v1h-1zM576 428h1v1h-1zM578 428h1v1h-1zM569 429h3v1h-3zM573 429h3v1h-3zM579 429h1v1h-1zM583 419h1v1h-1zM586 419h6v1h-6zM583 420h1v1h-1zM586 420h1v1h-1zM591 420h1v1h-1zM581 421h6v1h-6zM591 421h1v1h-1zM583 422h1v1h-1zM586 422h6v1h-6zM583 423h1v1h-1zM585 423h2v1h-2zM589 423h1v1h-1zM583 424h2v1h-2zM586 424h6v1h-6zM582 425h2v1h-2zM586 425h1v1h-1zM589 425h1v1h-1zM581 426h1v1h-1zM583 426h1v1h-1zM586 426h6v1h-6zM583 427h1v1h-1zM585 427h3v1h-3zM591 427h1v1h-1zM581 428h1v1h-1zM583 428h1v1h-1zM585 428h1v1h-1zM587 428h1v1h-1zM591 428h1v1h-1zM582 429h1v1h-1zM584 429h1v1h-1zM587 429h5v1h-5zM595 419h1v1h-1zM598 419h1v1h-1zM601 419h1v1h-1zM595 420h1v1h-1zM598 420h1v1h-1zM602 420h1v1h-1zM594 421h1v1h-1zM598 421h1v1h-1zM594 422h10v1h-10zM597 423h1v1h-1zM597 424h5v1h-5zM597 425h1v1h-1zM601 425h1v1h-1zM596 426h1v1h-1zM598 426h1v1h-1zM600 426h1v1h-1zM595 427h1v1h-1zM599 427h1v1h-1zM594 428h1v1h-1zM598 428h1v1h-1zM600 428h2v1h-2zM593 429h1v1h-1zM596 429h2v1h-2zM602 429h2v1h-2zM606 419h1v1h-1zM610 419h1v1h-1zM614 419h1v1h-1zM607 420h1v1h-1zM611 420h1v1h-1zM613 420h1v1h-1zM607 421h1v1h-1zM610 421h5v1h-5zM612 422h1v1h-1zM605 423h3v1h-3zM612 423h1v1h-1zM607 424h1v1h-1zM609 424h7v1h-7zM607 425h1v1h-1zM612 425h1v1h-1zM607 426h1v1h-1zM611 426h1v1h-1zM613 426h1v1h-1zM607 427h1v1h-1zM610 427h1v1h-1zM614 427h1v1h-1zM606 428h1v1h-1zM608 428h2v1h-2zM615 428h1v1h-1zM605 429h1v1h-1zM609 429h7v1h-7z" fill="#000"/><path d="M489.5 562.5H865.5V575.5H489.5Z" stroke="#008000" fill="#a0ffff"/><path d="M493 563h1v1h-1zM498 563h1v1h-1zM493 564h1v1h-1zM495 564h7v1h-7zM491 565h4v1h-4zM496 565h1v1h-1zM500 565h1v1h-1zM493 566h1v1h-1zM497 566h1v1h-1zM499 566h1v1h-1zM493 567h1v1h-1zM495 567h7v1h-7zM493 568h2v1h-2zM498 568h1v1h-1zM492 569h2v1h-2zM495 569h7v1h-7zM491 570h1v1h-1zM493 570h1v1h-1zM497 570h1v1h-1zM500 570h1v1h-1zM493 571h1v1h-1zM496 571h2v1h-2zM499 571h1v1h-1zM493 572h1v1h-1zM498 572h1v1h-1zM500 572h1v1h-1zM491 573h3v1h-3zM495 573h3v1h-3zM501 573h1v1h-1zM506 563h1v1h-1zM509 563h1v1h-1zM506 564h1v1h-1zM509 564h1v1h-1zM503 565h1v1h-1zM506 565h1v1h-1zM509 565h5v1h-5zM503 566h1v1h-1zM506 566h1v1h-1zM508 566h1v1h-1zM512 566h1v1h-1zM503 567h1v1h-1zM506 567h2v1h-2zM509 567h1v1h-1zM512 567h1v1h-1zM503 568h1v1h-1zM506 568h1v1h-1zM509 568h1v1h-1zM512 568h1v1h-1zM503 569h1v1h-1zM505 569h2v1h-2zM509 569h1v1h-1zM511 569h1v1h-1zM503 570h2v1h-2zM506 570h1v1h-1zM510 570h1v1h-1zM503 571h1v1h-1zM506 571h1v1h-1zM510 571h2v1h-2zM506 572h1v1h-1zM509 572h1v1h-1zM512 572h1v1h-1zM506 573h1v1h-1zM508 573h1v1h-1zM513 573h1v1h-1zM515 563h1v1h-1zM518 563h1v1h-1zM520 563h1v1h-1zM522 563h1v1h-1zM516 564h1v1h-1zM518 564h2v1h-2zM522 564h1v1h-1zM515 565h6v1h-6zM522 565h4v1h-4zM517 566h2v1h-2zM521 566h2v1h-2zM524 566h1v1h-1zM516 567h1v1h-1zM518 567h2v1h-2zM522 567h1v1h-1zM524 567h1v1h-1zM515 568h1v1h-1zM518 568h1v1h-1zM520 568h1v1h-1zM522 568h1v1h-1zM524 568h1v1h-1zM515 569h6v1h-6zM522 569h1v1h-1zM524 569h1v1h-1zM517 570h1v1h-1zM519 570h1v1h-1zM522 570h1v1h-1zM524 570h1v1h-1zM516 571h2v1h-2zM519 571h1v1h-1zM523 571h1v1h-1zM518 572h1v1h-1zM522 572h1v1h-1zM524 572h1v1h-1zM515 573h3v1h-3zM519 573h3v1h-3zM525 573h1v1h-1zM529 563h1v1h-1zM532 563h6v1h-6zM529 564h1v1h-1zM532 564h1v1h-1zM537 564h1v1h-1zM527 565h6v1h-6zM537 565h1v1h-1zM529 566h1v1h-1zM532 566h6v1h-6zM529 567h1v1h-1zM531 567h2v1h-2zM535 567h1v1h-1zM529 568h2v1h-2zM532 568h6v1h-6zM528 569h2v1h-2zM532 569h1v1h-1zM535 569h1v1h-1zM527 570h1v1h-1zM529 570h1v1h-1zM532 570h6v1h-6zM529 571h1v1h-1zM531 571h3v1h-3zM537 571h1v1h-1zM527 572h1v1h-1zM529 572h1v1h-1zM531 572h1v1h-1zM533 572h1v1h-1zM537 572h1v1h-1zM528 573h1v1h-1zM530 573h1v1h-1zM533 573h5v1h-5z" fill="#000"/><rect x="616" y="333" width="60" height="40" fill="#add8e6" stroke="#7b12be" stroke-width="2"/><rect x="617" y="351" width="58" height="1" fill="#000"/><defs><linearGradient id="tri" x1="0" y1="0" x2="1" y2="0.3"><stop offset="0" stop-color="#00b0ff"/><stop offset="1" stop-color="#0078c0"/></linearGradient></defs><path d="M617 368V372H624.5V370L625 366L624 365.5Z" fill="#fff" shape-rendering="auto"/><path d="M617 364h7.6l-3.6 8h-2z" fill="url(#tri)" shape-rendering="auto"/><rect x="623" y="370" width="1" height="2" fill="#1e90ff"/><path d="M12 12h1v1h-1zM14 12h1v1h-1zM9 13h1v1h-1zM12 13h1v1h-1zM14 13h1v1h-1zM9 14h1v1h-1zM12 14h1v1h-1zM14 14h5v1h-5zM9 15h1v1h-1zM12 15h1v1h-1zM14 15h1v1h-1zM9 16h1v1h-1zM12 16h2v1h-2zM16 16h1v1h-1zM9 17h1v1h-1zM12 17h1v1h-1zM17 17h1v1h-1zM12 18h1v1h-1zM9 19h9v1h-9zM9 20h1v1h-1zM12 20h1v1h-1zM14 20h1v1h-1zM17 20h1v1h-1zM9 21h1v1h-1zM12 21h1v1h-1zM14 21h1v1h-1zM17 21h1v1h-1zM9 22h1v1h-1zM12 22h1v1h-1zM14 22h1v1h-1zM17 22h1v1h-1zM8 23h11v1h-11zM22 12h1v1h-1zM26 12h6v1h-6zM23 13h1v1h-1zM26 13h1v1h-1zM31 13h1v1h-1zM21 14h6v1h-6zM28 14h1v1h-1zM31 14h1v1h-1zM24 15h1v1h-1zM26 15h1v1h-1zM28 15h1v1h-1zM31 15h1v1h-1zM23 16h1v1h-1zM26 16h1v1h-1zM28 16h1v1h-1zM31 16h1v1h-1zM23 17h1v1h-1zM26 17h1v1h-1zM28 17h1v1h-1zM31 17h1v1h-1zM22 18h3v1h-3zM26 18h1v1h-1zM28 18h1v1h-1zM31 18h1v1h-1zM21 19h1v1h-1zM23 19h1v1h-1zM25 19h2v1h-2zM28 19h1v1h-1zM31 19h1v1h-1zM23 20h1v1h-1zM28 20h1v1h-1zM23 21h1v1h-1zM27 21h1v1h-1zM29 21h1v1h-1zM32 21h1v1h-1zM23 22h1v1h-1zM26 22h1v1h-1zM29 22h1v1h-1zM32 22h1v1h-1zM23 23h1v1h-1zM25 23h1v1h-1zM29 23h4v1h-4zM35 12h11v1h-11zM35 13h1v1h-1zM45 13h1v1h-1zM34 14h1v1h-1zM38 14h1v1h-1zM44 14h1v1h-1zM38 15h6v1h-6zM38 16h1v1h-1zM37 17h1v1h-1zM37 18h8v1h-8zM44 19h1v1h-1zM35 20h8v1h-8zM44 20h1v1h-1zM44 21h1v1h-1zM41 22h1v1h-1zM43 22h1v1h-1zM42 23h1v1h-1zM50 12h2v1h-2zM52 13h1v1h-1zM52 14h1v1h-1zM52 15h1v1h-1zM51 16h1v1h-1zM53 16h1v1h-1zM51 17h1v1h-1zM53 17h1v1h-1zM51 18h1v1h-1zM53 18h1v1h-1zM50 19h1v1h-1zM54 19h1v1h-1zM50 20h1v1h-1zM54 20h1v1h-1zM49 21h1v1h-1zM55 21h1v1h-1zM48 22h1v1h-1zM56 22h1v1h-1zM47 23h1v1h-1zM57 23h2v1h-2z" fill="#000"/>
</svg>
<div class="t" style="left:727.5px;top:29px;width:4px;color:#111;font-size:12px;text-align:center;line-height:14px;transform:scaleX(1)">/</div><div class="t" style="left:790.5px;top:29px;width:7px;color:#111;font-size:12px;text-align:center;line-height:14px;transform:scaleX(0.9)">0</div><div class="t b" style="left:-11.400000000000006px;top:57px;width:120px;text-align:right;color:#202020;font-size:13px;transform:scaleX(0.855);transform-origin:right center">(0)</div><div class="t" style="left:82.0px;top:42px;width:120px;text-align:center;color:#3c3c3c;font-size:13px;transform:scaleX(0.835);transform-origin:center center">SM402</div><div class="t" style="left:145.0px;top:42px;width:120px;text-align:center;color:#3c3c3c;font-size:13px;transform:scaleX(0.835);transform-origin:center center">SD10680.0</div><div class="t" style="left:208.0px;top:42px;width:120px;text-align:center;color:#3c3c3c;font-size:13px;transform:scaleX(0.835);transform-origin:center center">SD10681.0</div><div class="t" style="left:648.5px;top:56px;width:120px;text-align:center;color:#1c1c1c;font-size:13px;transform:scaleX(0.835);transform-origin:center center">MOVP</div><div class="t" style="left:712.0px;top:56px;width:120px;text-align:center;color:#3c3c3c;font-size:13px;transform:scaleX(0.835);transform-origin:center center">H0</div><div class="t" style="left:775.0px;top:56px;width:120px;text-align:center;color:#3c3c3c;font-size:13px;transform:scaleX(0.835);transform-origin:center center">D100</div><div class="t" style="left:775.0px;top:67px;width:120px;text-align:center;color:#0000ff;font-size:13px;transform:scaleX(0.835);transform-origin:center center">0</div><div class="t" style="left:601.5px;top:87px;width:7px;color:#111;font-size:12px;text-align:center;line-height:14px;transform:scaleX(1)">1</div><div class="t" style="left:82.0px;top:100px;width:120px;text-align:center;color:#3c3c3c;font-size:13px;transform:scaleX(0.835);transform-origin:center center">M500</div><div class="t" style="left:522.5px;top:114px;width:120px;text-align:center;color:#1c1c1c;font-size:13px;transform:scaleX(0.852);transform-origin:center center">SP.SOCOP</div><div class="t" style="left:586.0px;top:114px;width:120px;text-align:center;color:#3c3c3c;font-size:13px;transform:scaleX(0.835);transform-origin:center center">"U0"</div><div class="t" style="left:649.0px;top:114px;width:120px;text-align:center;color:#3c3c3c;font-size:13px;transform:scaleX(0.835);transform-origin:center center">K1</div><div class="t" style="left:712.0px;top:114px;width:120px;text-align:center;color:#3c3c3c;font-size:13px;transform:scaleX(0.835);transform-origin:center center">D100</div><div class="t" style="left:712.0px;top:125px;width:120px;text-align:center;color:#0000ff;font-size:13px;transform:scaleX(0.835);transform-origin:center center">0</div><div class="t" style="left:775.0px;top:114px;width:120px;text-align:center;color:#3c3c3c;font-size:13px;transform:scaleX(0.835);transform-origin:center center">M100</div><div class="t b" style="left:-11.400000000000006px;top:158px;width:120px;text-align:right;color:#202020;font-size:13px;transform:scaleX(0.855);transform-origin:right center">(66)</div><div class="t" style="left:82.0px;top:143px;width:120px;text-align:center;color:#3c3c3c;font-size:13px;transform:scaleX(0.835);transform-origin:center center">M100</div><div class="t" style="left:145.0px;top:143px;width:120px;text-align:center;color:#3c3c3c;font-size:13px;transform:scaleX(0.835);transform-origin:center center">M101</div><div class="t" style="left:710.8px;top:157px;width:120px;text-align:center;color:#1c1c1c;font-size:13px;transform:scaleX(0.835);transform-origin:center center">SET</div><div class="t" style="left:775.0px;top:157px;width:120px;text-align:center;color:#3c3c3c;font-size:13px;transform:scaleX(0.835);transform-origin:center center">M1002</div><div class="t" style="left:145.0px;top:186px;width:120px;text-align:center;color:#3c3c3c;font-size:13px;transform:scaleX(0.835);transform-origin:center center">M101</div><div class="t" style="left:710.8px;top:200px;width:120px;text-align:center;color:#1c1c1c;font-size:13px;transform:scaleX(0.835);transform-origin:center center">SET</div><div class="t" style="left:775.0px;top:200px;width:120px;text-align:center;color:#3c3c3c;font-size:13px;transform:scaleX(0.835);transform-origin:center center">M1003</div><div class="t b" style="left:-11.400000000000006px;top:259px;width:120px;text-align:right;color:#202020;font-size:13px;transform:scaleX(0.855);transform-origin:right center">(78)</div><div class="t" style="left:82.0px;top:244px;width:120px;text-align:center;color:#3c3c3c;font-size:13px;transform:scaleX(0.835);transform-origin:center center">M500</div><div class="t" style="left:145.0px;top:244px;width:120px;text-align:center;color:#3c3c3c;font-size:13px;transform:scaleX(0.835);transform-origin:center center">SD10680.0</div><div class="t" style="left:648.5px;top:258px;width:120px;text-align:center;color:#1c1c1c;font-size:13px;transform:scaleX(0.835);transform-origin:center center">MOVP</div><div class="t" style="left:712.0px;top:258px;width:120px;text-align:center;color:#3c3c3c;font-size:13px;transform:scaleX(0.835);transform-origin:center center">K6</div><div class="t" style="left:775.0px;top:258px;width:120px;text-align:center;color:#3c3c3c;font-size:13px;transform:scaleX(0.835);transform-origin:center center">D300</div><div class="t" style="left:775.0px;top:269px;width:120px;text-align:center;color:#0000ff;font-size:13px;transform:scaleX(0.835);transform-origin:center center">0</div><div class="t" style="left:648.5px;top:301px;width:120px;text-align:center;color:#1c1c1c;font-size:13px;transform:scaleX(0.835);transform-origin:center center">MOVP</div><div class="t" style="left:712.0px;top:301px;width:120px;text-align:center;color:#3c3c3c;font-size:13px;transform:scaleX(0.835);transform-origin:center center">K2X0</div><div class="t" style="left:712.0px;top:312px;width:120px;text-align:center;color:#0000ff;font-size:13px;transform:scaleX(0.835);transform-origin:center center">0</div><div class="t" style="left:775.0px;top:301px;width:120px;text-align:center;color:#3c3c3c;font-size:13px;transform:scaleX(0.835);transform-origin:center center">D301</div><div class="t" style="left:775.0px;top:312px;width:120px;text-align:center;color:#0000ff;font-size:13px;transform:scaleX(0.835);transform-origin:center center">0</div><div class="t" style="left:648.5px;top:344px;width:120px;text-align:center;color:#1c1c1c;font-size:13px;transform:scaleX(0.835);transform-origin:center center">MOVP</div><div class="t" style="left:712.0px;top:344px;width:120px;text-align:center;color:#3c3c3c;font-size:13px;transform:scaleX(0.835);transform-origin:center center">K2X0</div><div class="t" style="left:712.0px;top:355px;width:120px;text-align:center;color:#0000ff;font-size:13px;transform:scaleX(0.835);transform-origin:center center">0</div><div class="t" style="left:775.0px;top:344px;width:120px;text-align:center;color:#3c3c3c;font-size:13px;transform:scaleX(0.835);transform-origin:center center">D302</div><div class="t" style="left:775.0px;top:355px;width:120px;text-align:center;color:#0000ff;font-size:13px;transform:scaleX(0.835);transform-origin:center center">0</div><div class="t" style="left:648.5px;top:387px;width:120px;text-align:center;color:#1c1c1c;font-size:13px;transform:scaleX(0.835);transform-origin:center center">MOVP</div><div class="t" style="left:712.0px;top:387px;width:120px;text-align:center;color:#3c3c3c;font-size:13px;transform:scaleX(0.835);transform-origin:center center">K2X0</div><div class="t" style="left:712.0px;top:398px;width:120px;text-align:center;color:#0000ff;font-size:13px;transform:scaleX(0.835);transform-origin:center center">0</div><div class="t" style="left:775.0px;top:387px;width:120px;text-align:center;color:#3c3c3c;font-size:13px;transform:scaleX(0.835);transform-origin:center center">D303</div><div class="t" style="left:775.0px;top:398px;width:120px;text-align:center;color:#0000ff;font-size:13px;transform:scaleX(0.835);transform-origin:center center">0</div><div class="t" style="left:550.5px;top:418px;width:7px;color:#111;font-size:12px;text-align:center;line-height:14px;transform:scaleX(1)">1</div><div class="t" style="left:459.5px;top:445px;width:120px;text-align:center;color:#1c1c1c;font-size:13px;transform:scaleX(0.852);transform-origin:center center">SP.SOCSN</div><div class="t" style="left:523.0px;top:445px;width:120px;text-align:center;color:#3c3c3c;font-size:13px;transform:scaleX(0.835);transform-origin:center center">"U0"</div><div class="t" style="left:586.0px;top:445px;width:120px;text-align:center;color:#3c3c3c;font-size:13px;transform:scaleX(0.835);transform-origin:center center">K1</div><div class="t" style="left:649.0px;top:445px;width:120px;text-align:center;color:#3c3c3c;font-size:13px;transform:scaleX(0.835);transform-origin:center center">D3000</div><div class="t" style="left:649.0px;top:456px;width:120px;text-align:center;color:#0000ff;font-size:13px;transform:scaleX(0.835);transform-origin:center center">0</div><div class="t" style="left:712.0px;top:445px;width:120px;text-align:center;color:#3c3c3c;font-size:13px;transform:scaleX(0.835);transform-origin:center center">D300</div><div class="t" style="left:712.0px;top:456px;width:120px;text-align:center;color:#0000ff;font-size:13px;transform:scaleX(0.835);transform-origin:center center">0</div><div class="t" style="left:775.0px;top:445px;width:120px;text-align:center;color:#3c3c3c;font-size:13px;transform:scaleX(0.835);transform-origin:center center">M300</div><div class="t b" style="left:-11.400000000000006px;top:489px;width:120px;text-align:right;color:#202020;font-size:13px;transform:scaleX(0.855);transform-origin:right center">(157)</div><div class="t" style="left:82.0px;top:474px;width:120px;text-align:center;color:#3c3c3c;font-size:13px;transform:scaleX(0.835);transform-origin:center center">M300</div><div class="t" style="left:145.0px;top:474px;width:120px;text-align:center;color:#3c3c3c;font-size:13px;transform:scaleX(0.835);transform-origin:center center">M301</div><div class="t" style="left:710.8px;top:488px;width:120px;text-align:center;color:#1c1c1c;font-size:13px;transform:scaleX(0.835);transform-origin:center center">SET</div><div class="t" style="left:775.0px;top:488px;width:120px;text-align:center;color:#3c3c3c;font-size:13px;transform:scaleX(0.835);transform-origin:center center">M3002</div><div class="t" style="left:145.0px;top:517px;width:120px;text-align:center;color:#3c3c3c;font-size:13px;transform:scaleX(0.835);transform-origin:center center">M301</div><div class="t" style="left:710.8px;top:531px;width:120px;text-align:center;color:#1c1c1c;font-size:13px;transform:scaleX(0.835);transform-origin:center center">SET</div><div class="t" style="left:775.0px;top:531px;width:120px;text-align:center;color:#3c3c3c;font-size:13px;transform:scaleX(0.835);transform-origin:center center">M3003</div><div class="t b" style="left:-11.400000000000006px;top:561px;width:120px;text-align:right;color:#202020;font-size:13px;transform:scaleX(0.855);transform-origin:right center">(169)</div><div class="t b" style="left:-11.400000000000006px;top:590px;width:120px;text-align:right;color:#202020;font-size:13px;transform:scaleX(0.855);transform-origin:right center">(169)</div><div class="t" style="left:82.0px;top:575px;width:120px;text-align:center;color:#3c3c3c;font-size:13px;transform:scaleX(0.835);transform-origin:center center">SD10680.0</div><div class="t" style="left:145.0px;top:575px;width:120px;text-align:center;color:#3c3c3c;font-size:13px;transform:scaleX(0.835);transform-origin:center center">SD10682.0</div><div class="t" style="left:208.0px;top:575px;width:120px;text-align:center;color:#3c3c3c;font-size:13px;transform:scaleX(0.835);transform-origin:center center">M500</div><div class="t" style="left:459.5px;top:589px;width:120px;text-align:center;color:#1c1c1c;font-size:13px;transform:scaleX(0.852);transform-origin:center center">SP.SOCRC</div><div class="t" style="left:523.0px;top:589px;width:120px;text-align:center;color:#3c3c3c;font-size:13px;transform:scaleX(0.835);transform-origin:center center">"U0"</div><div class="t" style="left:586.0px;top:589px;width:120px;text-align:center;color:#3c3c3c;font-size:13px;transform:scaleX(0.835);transform-origin:center center">K1</div><div class="t" style="left:649.0px;top:589px;width:120px;text-align:center;color:#3c3c3c;font-size:13px;transform:scaleX(0.835);transform-origin:center center">D5000</div><div class="t" style="left:649.0px;top:600px;width:120px;text-align:center;color:#0000ff;font-size:13px;transform:scaleX(0.835);transform-origin:center center">0</div><div class="t" style="left:712.0px;top:589px;width:120px;text-align:center;color:#3c3c3c;font-size:13px;transform:scaleX(0.835);transform-origin:center center">D500</div><div class="t" style="left:712.0px;top:600px;width:120px;text-align:center;color:#0000ff;font-size:13px;transform:scaleX(0.835);transform-origin:center center">0</div><div class="t" style="left:775.0px;top:589px;width:120px;text-align:center;color:#3c3c3c;font-size:13px;transform:scaleX(0.835);transform-origin:center center">M500</div><div class="t b" style="left:-11.400000000000006px;top:633px;width:120px;text-align:right;color:#202020;font-size:13px;transform:scaleX(0.855);transform-origin:right center">(209)</div><div class="t" style="left:82.0px;top:618px;width:120px;text-align:center;color:#3c3c3c;font-size:13px;transform:scaleX(0.835);transform-origin:center center">M500</div><div class="t" style="left:145.0px;top:618px;width:120px;text-align:center;color:#3c3c3c;font-size:13px;transform:scaleX(0.835);transform-origin:center center">M501</div><div class="t" style="left:710.8px;top:632px;width:120px;text-align:center;color:#1c1c1c;font-size:13px;transform:scaleX(0.835);transform-origin:center center">SET</div><div class="t" style="left:775.0px;top:632px;width:120px;text-align:center;color:#3c3c3c;font-size:13px;transform:scaleX(0.835);transform-origin:center center">M5002</div><div class="t" style="left:145.0px;top:661px;width:120px;text-align:center;color:#3c3c3c;font-size:13px;transform:scaleX(0.835);transform-origin:center center">M501</div><div class="t" style="left:710.8px;top:675px;width:120px;text-align:center;color:#1c1c1c;font-size:13px;transform:scaleX(0.835);transform-origin:center center">SET</div><div class="t" style="left:775.0px;top:675px;width:120px;text-align:center;color:#3c3c3c;font-size:13px;transform:scaleX(0.835);transform-origin:center center">M5003</div><div class="t b" style="left:-11.400000000000006px;top:719px;width:120px;text-align:right;color:#202020;font-size:13px;transform:scaleX(0.855);transform-origin:right center">(221)</div><div class="t" style="left:82.0px;top:704px;width:120px;text-align:center;color:#3c3c3c;font-size:13px;transform:scaleX(0.835);transform-origin:center center">M5002</div><div class="t" style="left:648.5px;top:718px;width:120px;text-align:center;color:#1c1c1c;font-size:13px;transform:scaleX(0.835);transform-origin:center center">MOV</div><div class="t" style="left:712.0px;top:718px;width:120px;text-align:center;color:#3c3c3c;font-size:13px;transform:scaleX(0.835);transform-origin:center center">D501</div><div class="t" style="left:712.0px;top:729px;width:120px;text-align:center;color:#0000ff;font-size:13px;transform:scaleX(0.835);transform-origin:center center">0</div><div class="t" style="left:775.0px;top:718px;width:120px;text-align:center;color:#3c3c3c;font-size:13px;transform:scaleX(0.835);transform-origin:center center">K2Y0</div><div class="t" style="left:775.0px;top:729px;width:120px;text-align:center;color:#0000ff;font-size:13px;transform:scaleX(0.835);transform-origin:center center">0</div><div class="t b" style="left:-11.400000000000006px;top:762px;width:120px;text-align:right;color:#202020;font-size:13px;transform:scaleX(0.855);transform-origin:right center">(229)</div><div class="t b" style="left:772.0px;top:760px;width:120px;text-align:center;color:#000;font-size:13px;transform:scaleX(0.835);transform-origin:center center">END</div>
</body></html>
